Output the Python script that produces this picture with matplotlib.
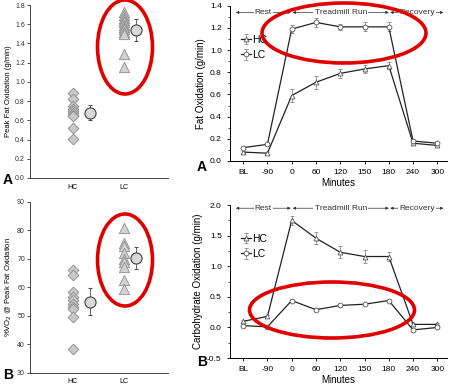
import matplotlib.pyplot as plt
from matplotlib.patches import Ellipse
from matplotlib.ticker import MultipleLocator

plt.rcParams['font.family'] = ['Liberation Sans', 'DejaVu Sans']

# Panel A/B left: individual subjects + group mean +/- SD
groups = ['HC', 'LC']
pfo_hc = [0.88, 0.82, 0.75, 0.72, 0.70, 0.68, 0.66, 0.64, 0.52, 0.41]
pfo_lc = [1.73, 1.70, 1.67, 1.64, 1.62, 1.59, 1.57, 1.55, 1.52, 1.50, 1.29, 1.15]
pfo_mean = [0.68, 1.54]
pfo_sd = [0.08, 0.11]

vo2_hc = [66, 64.5, 58.5, 56.5, 55.5, 54, 53, 52.5, 49.5, 38.5]
vo2_lc = [81, 75.5, 74.5, 72, 70, 69, 67, 62.5, 59.5]
vo2_mean = [55.0, 70.4]
vo2_sd = [4.8, 3.9]

# Panel A/B right: time course
minutes = ['BL', '-90', '0', '60', '120', '150', '180', '240', '300']
fat_hc = [0.08, 0.07, 0.59, 0.71, 0.79, 0.83, 0.86, 0.16, 0.14]
fat_hc_err = [0.01, 0.01, 0.06, 0.06, 0.04, 0.04, 0.03, 0.01, 0.01]
fat_lc = [0.12, 0.15, 1.19, 1.25, 1.21, 1.21, 1.21, 0.18, 0.16]
fat_lc_err = [0.01, 0.01, 0.04, 0.04, 0.03, 0.04, 0.04, 0.01, 0.01]
cho_hc = [0.10, 0.18, 1.75, 1.46, 1.23, 1.16, 1.16, 0.05, 0.05]
cho_hc_err = [0.02, 0.02, 0.07, 0.10, 0.10, 0.10, 0.08, 0.02, 0.02]
cho_lc = [0.03, 0.01, 0.44, 0.29, 0.36, 0.38, 0.44, -0.04, 0.00]
cho_lc_err = [0.01, 0.01, 0.02, 0.02, 0.02, 0.02, 0.02, 0.01, 0.01]

phases = ['Rest', 'Treadmill Run', 'Recovery']

fig = plt.figure(figsize=(4.52, 3.86), dpi=100)


def scatter_panel(ax, hc, lc, mean, sd, ylabel):
    ax.scatter([1] * len(hc), hc, marker='D', s=30, c='#c8c8c8',
               edgecolors='#8c8c8c', linewidths=0.6, zorder=3)
    ax.scatter([2] * len(lc), lc, marker='^', s=55, c='#d2d2d2',
               edgecolors='#8c8c8c', linewidths=0.6, zorder=3)
    ax.errorbar([1.33, 2.24], mean, yerr=sd, fmt='o', ms=8, mfc='#d8d8d8',
                mec='#404040', mew=0.8, ecolor='#505050', elinewidth=0.6,
                capsize=1.2, zorder=4)
    ax.set_xlim(0.16, 2.86)
    ax.set_xticks([1, 2])
    ax.set_xticklabels(groups)
    ax.tick_params(axis='x', length=0, labelsize=5, pad=4)
    ax.tick_params(axis='y', length=2, width=0.6, labelsize=5, pad=1.5, colors='#333333')
    ax.set_ylabel(ylabel, fontsize=5.5, labelpad=2)
    for s in ['top', 'right']:
        ax.spines[s].set_visible(False)
    for s in ['left', 'bottom']:
        ax.spines[s].set_linewidth(0.7)
        ax.spines[s].set_color('#444444')


def time_panel(ax, hc, hc_err, lc, lc_err, ylabel, phase_y, leg_y):
    x = range(len(minutes))
    l1 = ax.errorbar(x, hc, yerr=hc_err, fmt='-^', color='#222222', lw=0.9,
                     ms=3.5, mfc='white', mec='#555555', mew=0.6,
                     ecolor='#888888', elinewidth=0.6, capsize=1.2, label='HC')
    l2 = ax.errorbar(x, lc, yerr=lc_err, fmt='-o', color='#222222', lw=0.9,
                     ms=3.5, mfc='white', mec='#555555', mew=0.6,
                     ecolor='#888888', elinewidth=0.6, capsize=1.2, label='LC')
    ax.set_xlim(-0.54, 8.4)
    ax.set_xticks(list(x))
    ax.set_xticklabels(minutes)
    ax.set_xlabel('Minutes', fontsize=7, labelpad=1)
    ax.set_ylabel(ylabel, fontsize=7, labelpad=3)
    ax.tick_params(length=2.5, width=0.6, labelsize=6)
    ax.tick_params(which='minor', length=1.5, width=0.5)
    for s in ['top', 'right']:
        ax.spines[s].set_visible(False)
    for s in ['left', 'bottom']:
        ax.spines[s].set_linewidth(0.7)

    # phase bars along the top
    spans = [(-0.3, 1.96), (2.04, 6.0), (6.06, 8.25)]
    for name, (a, b) in zip(phases, spans):
        ax.annotate('', xy=(a, phase_y), xytext=(b, phase_y),
                    arrowprops=dict(arrowstyle='<|-|>', lw=0.5, color='#333333',
                                    mutation_scale=4, shrinkA=0, shrinkB=0))
        ax.text((a + b) / 2, phase_y, name, ha='center', va='center', fontsize=6,
                color='#333333', bbox=dict(fc='white', ec='none', pad=0.8))

    ax.legend(handles=[l1, l2], loc='upper left', bbox_to_anchor=(0.03, leg_y),
              frameon=False, fontsize=7.5, handlelength=1.0, handletextpad=0.1,
              labelspacing=0.5, borderaxespad=0)


# Top-left
ax1 = fig.add_axes([0.066, 0.539, 0.306, 0.448])
scatter_panel(ax1, pfo_hc, pfo_lc, pfo_mean, pfo_sd, 'Peak Fat Oxidation (g/min)')
ax1.set_ylim(0, 1.8)
ax1.yaxis.set_major_locator(MultipleLocator(0.2))
ax1.yaxis.set_major_formatter(plt.FormatStrFormatter('%.1f'))

# Bottom-left
ax2 = fig.add_axes([0.066, 0.034, 0.306, 0.443])
scatter_panel(ax2, vo2_hc, vo2_lc, vo2_mean, vo2_sd, '%VO$_2$ @ Peak Fat Oxidation')
ax2.set_ylim(30, 90)
ax2.yaxis.set_major_locator(MultipleLocator(10))

# Top-right
ax3 = fig.add_axes([0.509, 0.583, 0.480, 0.402])
time_panel(ax3, fat_hc, fat_hc_err, fat_lc, fat_lc_err, 'Fat Oxidation (g/min)', 1.34, 0.84)
ax3.set_ylim(0, 1.4)
ax3.yaxis.set_major_locator(MultipleLocator(0.2))
ax3.yaxis.set_minor_locator(MultipleLocator(0.1))
ax3.yaxis.set_major_formatter(plt.FormatStrFormatter('%.1f'))

# Bottom-right
ax4 = fig.add_axes([0.509, 0.0725, 0.480, 0.396])
time_panel(ax4, cho_hc, cho_hc_err, cho_lc, cho_lc_err, 'Carbohydrate Oxidation (g/min)', 1.95, 0.84)
ax4.set_ylim(-0.5, 2.0)
ax4.yaxis.set_major_locator(MultipleLocator(0.5))
ax4.yaxis.set_minor_locator(MultipleLocator(0.25))
ax4.yaxis.set_major_formatter(plt.FormatStrFormatter('%.1f'))

# overlay in pixel coordinates for panel letters and red ellipses
ov = fig.add_axes([0, 0, 1, 1])
ov.set_xlim(0, 452)
ov.set_ylim(386, 0)
ov.axis('off')
ov.patch.set_alpha(0)
for (cx, cy, w, h) in [(125, 47, 55, 94), (125, 260, 55, 92), (344, 33, 164, 60), (332, 310, 165, 56)]:
    ov.add_patch(Ellipse((cx, cy), w, h, fill=False, ec='#e00000', lw=2.6))
ov.text(3, 180, 'A', fontsize=10, fontweight='bold', va='center')
ov.text(3, 375, 'B', fontsize=10, fontweight='bold', va='center')
ov.text(197, 167, 'A', fontsize=10, fontweight='bold', va='center')
ov.text(197, 362, 'B', fontsize=10, fontweight='bold', va='center')

plt.savefig('out.png', dpi=100)
